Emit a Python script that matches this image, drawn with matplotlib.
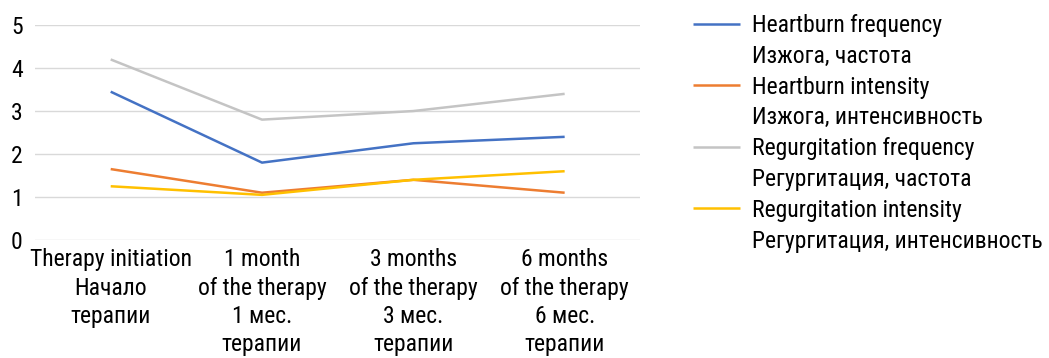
import matplotlib.pyplot as plt
from matplotlib.lines import Line2D

plt.rcParams["font.family"] = ["Roboto Condensed", "DejaVu Sans"]

categories = [
    "Therapy initiation\nНачало\nтерапии",
    "1 month\nof the therapy\n1 мес.\nтерапии",
    "3 months\nof the therapy\n3 мес.\nтерапии",
    "6 months\nof the therapy\n6 мес.\nтерапии",
]
heartburn_freq = [3.45, 1.8, 2.25, 2.4]
heartburn_int = [1.65, 1.1, 1.4, 1.1]
regurg_freq = [4.2, 2.8, 3.0, 3.4]
regurg_int = [1.25, 1.05, 1.4, 1.6]

labels_en = ["Heartburn frequency", "Heartburn intensity",
             "Regurgitation frequency", "Regurgitation intensity"]
labels_ru = ["Изжога, частота", "Изжога, интенсивность",
             "Регургитация, частота", "Регургитация, интенсивность"]
colors = ["#4472C4", "#ED7D31", "#C4C4C4", "#FFC000"]

fig = plt.figure(figsize=(10.49, 3.58), dpi=100)
ax = fig.add_axes([0.0334, 0.3296, 0.577, 0.6004])

x = list(range(len(categories)))
series = [heartburn_freq, heartburn_int, regurg_freq, regurg_int]
lines = []
for vals, c in zip(series, colors):
    (ln,) = ax.plot(x, vals, color=c, lw=1.8, solid_capstyle="butt")
    lines.append(ln)

ax.set_xlim(-0.5, len(categories) - 0.5)
ax.set_ylim(0, 5)
ax.set_yticks(range(6))
ax.set_xticks(x)
ax.set_xticklabels(categories, fontsize=17, linespacing=1.29)
ax.tick_params(axis="y", labelsize=17, length=0, pad=9)
ax.tick_params(axis="x", length=0, pad=6)
ax.grid(axis="y", color="#D9D9D9", lw=1)
ax.set_axisbelow(True)
for s in ax.spines.values():
    s.set_visible(False)

# english name next to the line, russian name on the row below
handles, texts = [], []
for ln, en, ru in zip(lines, labels_en, labels_ru):
    handles += [ln, Line2D([], [], color="none")]
    texts += [en, ru]

fig.legend(
    handles, texts,
    loc="upper left",
    bbox_to_anchor=(0.6606, 0.961),
    frameon=False,
    fontsize=17,
    handlelength=2.0,
    handletextpad=0.5,
    labelspacing=0.33,
    borderpad=0,
    borderaxespad=0,
)

fig.savefig("out.png", dpi=100)
